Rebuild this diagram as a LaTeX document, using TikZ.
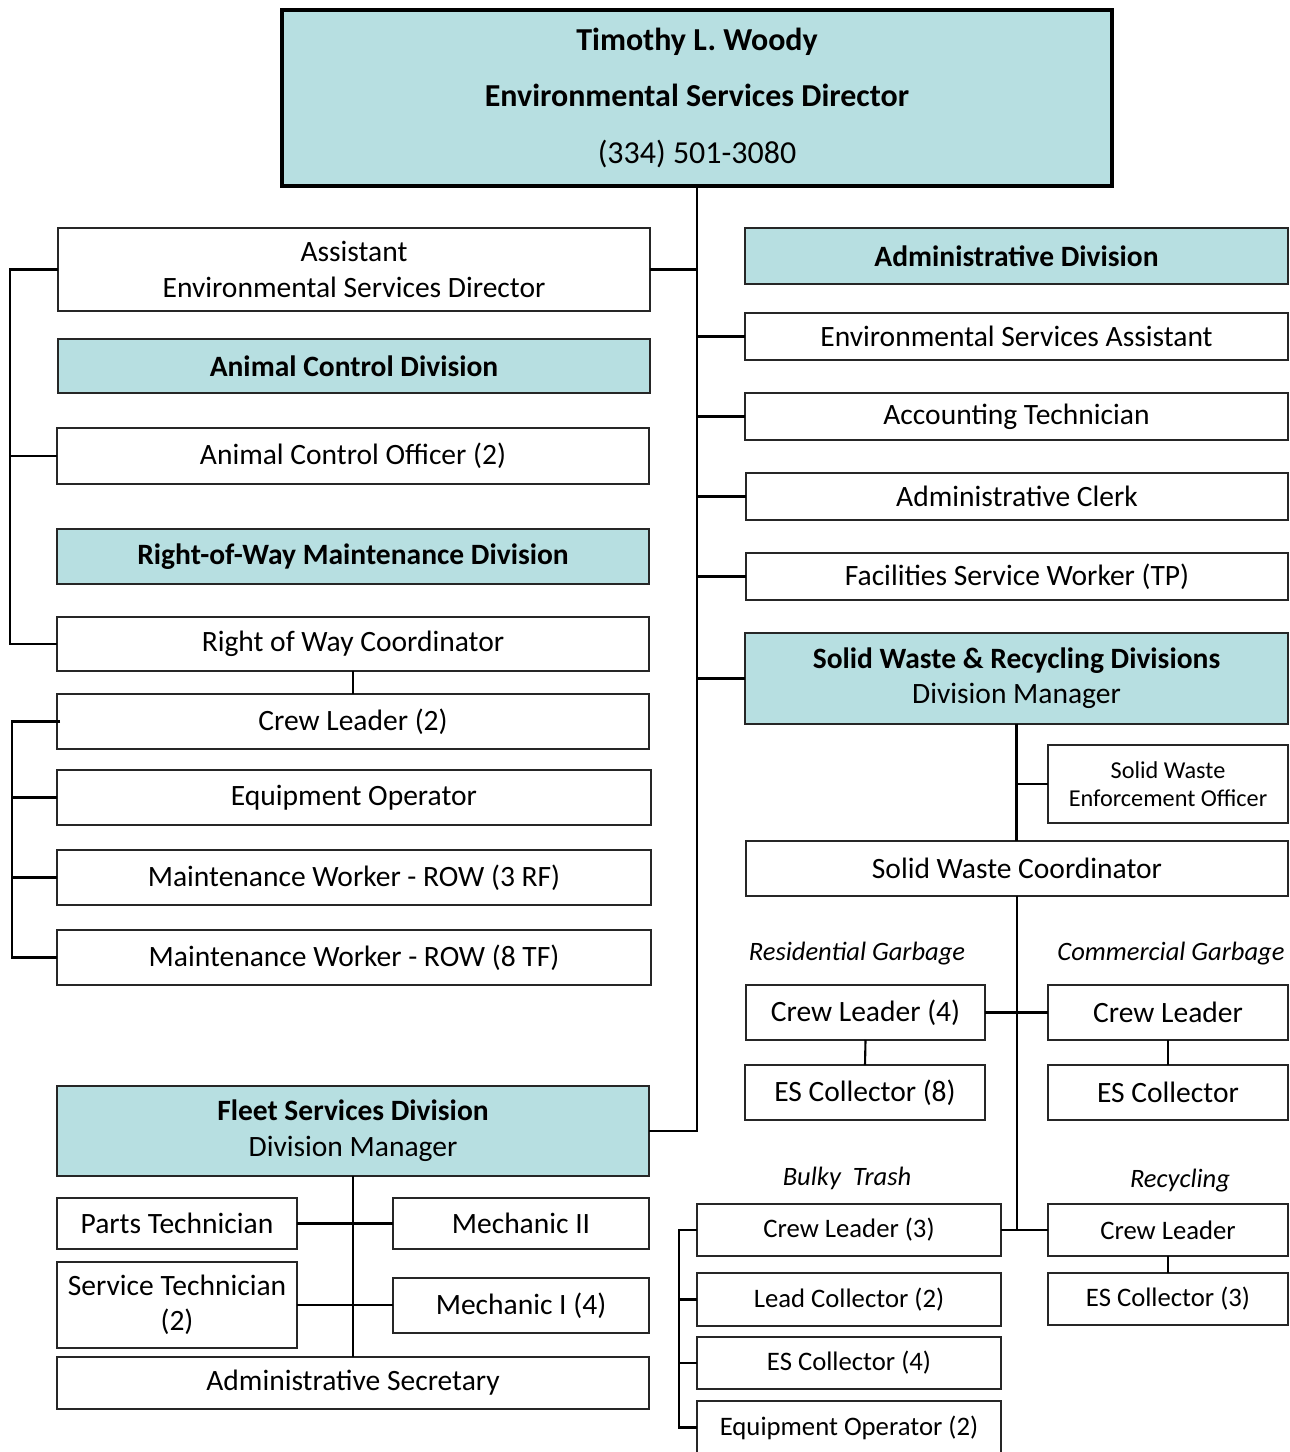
\documentclass[tikz,border=0pt]{standalone}
\usepackage{fontspec}
\setmainfont{Carlito}
\usepackage{tikz}
\usetikzlibrary{positioning,calc}

\definecolor{divteal}{RGB}{183,223,225}

\begin{document}
\begin{tikzpicture}[
  x=0.02cm, y=-0.02cm,
  post/.style={rectangle, draw=black!85, fill=white, line width=0.7pt, inner sep=0pt, outer sep=0pt, align=center, font=\fontsize{16.8}{20}\selectfont},
  division/.style={post, fill=divteal},
  small/.style={post, font=\fontsize{15.2}{18}\selectfont},
  group/.style={inner sep=0pt, font=\fontsize{15.1}{17}\selectfont\itshape},
  link/.style={line width=1.2pt, draw=black},
]
  \useasboundingbox (0,0) rectangle (1289,1452);

  \node[division, draw=black, line width=2.4pt, minimum width=16.6cm, minimum height=3.52cm, font=\fontsize{18.2}{32.4}\selectfont] (dir) at (697,98)
    {\textbf{Timothy L. Woody}\\\textbf{Environmental Services Director}\\(334) 501-3080};

  \node[post, minimum width=11.84cm, minimum height=1.66cm] (asst) at (354,269.5) {Assistant\\Environmental Services Director};
  \node[division, minimum width=11.84cm, minimum height=1.08cm] (acdiv) at (354,366) {\textbf{Animal Control Division}};
  \node[post, minimum width=11.84cm, minimum height=1.12cm] (aco) at (353,456) {Animal Control Officer (2)};
  \node[division, minimum width=11.84cm, minimum height=1.1cm] (rowdiv) at (353,556.5) {\textbf{Right-of-Way Maintenance Division}};
  \node[post, minimum width=11.84cm, minimum height=1.08cm] (rowc) at (353,644) {Right of Way Coordinator};
  \node[post, minimum width=11.84cm, minimum height=1.1cm] (rowcl) at (353,721.5) {Crew Leader (2)};
  \node[post, minimum width=11.88cm, minimum height=1.1cm] (roweq) at (354,797.5) {Equipment Operator};
  \node[post, minimum width=11.88cm, minimum height=1.1cm] (rowrf) at (354,877.5) {Maintenance Worker - ROW (3 RF)};
  \node[post, minimum width=11.88cm, minimum height=1.1cm] (rowtf) at (354,957.5) {Maintenance Worker - ROW (8 TF)};

  \node[division, minimum width=11.84cm, minimum height=1.8cm, font=\fontsize{16.8}{20.5}\selectfont] (fleet) at (353,1131) {\textbf{Fleet Services Division}\\Division Manager};
  \node[post, minimum width=4.8cm, minimum height=1.02cm] (parts) at (177,1223.5) {Parts Technician};
  \node[post, minimum width=5.12cm, minimum height=1.02cm] (mech2) at (521,1223.5) {Mechanic II};
  \node[post, minimum width=4.8cm, minimum height=1.72cm] (servt) at (177,1305) {Service Technician\\(2)};
  \node[post, minimum width=5.12cm, minimum height=1.1cm] (mech1) at (521,1305.5) {Mechanic I (4)};
  \node[post, minimum width=11.84cm, minimum height=1.04cm] (adsec) at (353,1383) {Administrative Secretary};

  \node[division, minimum width=10.86cm, minimum height=1.12cm] (admdiv) at (1016.5,256) {\textbf{Administrative Division}};
  \node[post, minimum width=10.86cm, minimum height=0.94cm] (esa) at (1016.5,336.5) {Environmental Services Assistant};
  \node[post, minimum width=10.86cm, minimum height=0.94cm] (acct) at (1016.5,416.5) {Accounting Technician};
  \node[post, minimum width=10.84cm, minimum height=0.94cm] (clerk) at (1017,496.5) {Administrative Clerk};
  \node[post, minimum width=10.84cm, minimum height=0.94cm] (fsw) at (1017,576.5) {Facilities Service Worker (TP)};
  \node[division, minimum width=10.86cm, minimum height=1.82cm] (swdiv) at (1016.5,678.5) {\textbf{Solid Waste \& Recycling Divisions}\\Division Manager};
  \node[post, minimum width=4.8cm, minimum height=1.56cm, font=\fontsize{13.8}{16}\selectfont] (sweo) at (1168,784) {Solid Waste\\Enforcement Officer};
  \node[post, minimum width=10.84cm, minimum height=1.1cm] (swc) at (1017,868.5) {Solid Waste Coordinator};

  \node[group] (reslbl) at (857,954) {Residential Garbage};
  \node[group] (comlbl) at (1171,954) {Commercial Garbage};
  \node[post, minimum width=4.78cm, minimum height=1.1cm] (rescl) at (865.5,1012.5) {Crew Leader (4)};
  \node[post, minimum width=4.8cm, minimum height=1.1cm] (rescol) at (865,1092.5) {ES Collector (8)};
  \node[post, minimum width=4.8cm, minimum height=1.1cm] (comcl) at (1168,1012.5) {Crew Leader};
  \node[post, minimum width=4.8cm, minimum height=1.1cm] (comcol) at (1168,1092.5) {ES Collector};

  \node[group] (bulklbl) at (847,1178) {Bulky\ \ Trash};
  \node[group] (reclbl) at (1180,1181) {Recycling};
  \node[small, minimum width=6.08cm, minimum height=1.04cm] (bulkcl) at (849,1230) {Crew Leader (3)};
  \node[small, minimum width=6.08cm, minimum height=1.06cm] (bulklead) at (849,1299.5) {Lead Collector (2)};
  \node[small, minimum width=6.08cm, minimum height=1.04cm] (bulkcol) at (849,1363) {ES Collector (4)};
  \node[small, minimum width=6.08cm, minimum height=1.06cm] (bulkeq) at (849,1427.5) {Equipment Operator (2)};
  \node[small, minimum width=4.8cm, minimum height=1.04cm] (reccl) at (1168,1230) {Crew Leader};
  \node[small, minimum width=4.8cm, minimum height=1.04cm] (reccol) at (1168,1299) {ES Collector (3)};

  \coordinate (lbar) at (10,0);
  \coordinate (cbar) at (12,0);
  \coordinate (bbar) at (679,0);

  \draw[link] (dir.south) |- (fleet.east);
  \draw[link] (asst.east) -- (asst.east -| dir.south);
  \draw[link] (dir.south |- esa.west) -- (esa.west);
  \draw[link] (dir.south |- acct.west) -- (acct.west);
  \draw[link] (dir.south |- clerk.west) -- (clerk.west);
  \draw[link] (dir.south |- fsw.west) -- (fsw.west);
  \draw[link] (dir.south |- swdiv.west) -- (swdiv.west);

  \draw[link] (asst.west) -- (asst.west -| lbar) |- (rowc.west);
  \draw[link] (aco.west) -- (aco.west -| lbar);
  \draw[link] (rowc.south) -- (rowcl.north);
  \draw[link] ($(rowcl.west)+(3,0)$) -- (rowcl.west -| cbar) |- (rowtf.west);
  \draw[link] (roweq.west) -- (roweq.west -| cbar);
  \draw[link] (rowrf.west) -- (rowrf.west -| cbar);

  \draw[link] (fleet.south) -- (adsec.north);
  \draw[link] (parts.east) -- (mech2.west);
  \draw[link] (servt.east) -- (servt.east -| mech1.west);

  \draw[link] (swc.north -| swdiv.south) -- (swdiv.south);
  \draw[link] (swdiv.south |- sweo.west) -- (sweo.west);
  \draw[link] (swc.south) -- (swc.south |- bulkcl.east);
  \draw[link] (rescl.east) -- (comcl.west);
  \draw[link] (bulkcl.east) -- (reccl.west);
  \draw[link] (rescl.south) -- (rescol.north);
  \draw[link] (comcl.south) -- (comcol.north);
  \draw[link] (reccl.south) -- (reccol.north);
  \draw[link] (bulkcl.west) -- (bulkcl.west -| bbar) |- (bulkeq.west);
  \draw[link] (bulklead.west) -- (bulklead.west -| bbar);
  \draw[link] (bulkcol.west) -- (bulkcol.west -| bbar);
\end{tikzpicture}
\end{document}
